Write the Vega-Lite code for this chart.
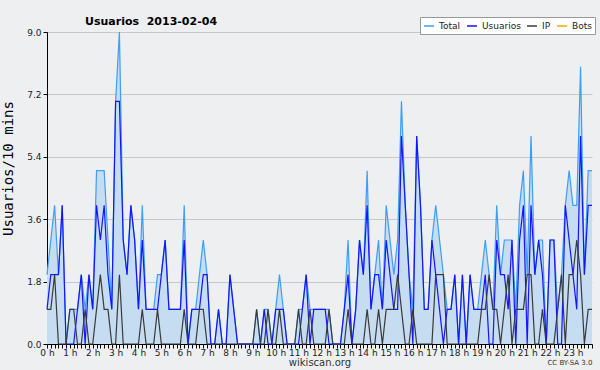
{
  "$schema": "https://vega.github.io/schema/vega-lite/v6.json",
  "width": 545,
  "height": 312,
  "autosize": {"type": "none"},
  "padding": {"left": 47, "top": 32, "right": 8, "bottom": 26},
  "background": "#eeeff1",
  "config": {"view": {"stroke": null, "fill": "#eeeff1"}, "font": "DejaVu Sans"},
  "title": {"text": "Usuarios\u00a0 2013-02-04", "anchor": "start", "frame": "group", "dx": 38, "dy": 19, "fontSize": 11, "fontWeight": "bold", "font": "DejaVu Sans", "color": "#000000", "offset": 9},
  "data": {"values": [
    {"m":0,"Total":2,"Usuarios":1,"IP":1},{"m":10,"Total":3,"Usuarios":2,"IP":1},{"m":20,"Total":4,"Usuarios":2,"IP":2},{"m":30,"Total":2,"Usuarios":2,"IP":0},{"m":40,"Total":4,"Usuarios":4,"IP":0},{"m":50,"Total":0,"Usuarios":0,"IP":0},
    {"m":60,"Total":1,"Usuarios":0,"IP":1},{"m":70,"Total":1,"Usuarios":0,"IP":1},{"m":80,"Total":1,"Usuarios":1,"IP":0},{"m":90,"Total":2,"Usuarios":2,"IP":0},{"m":100,"Total":1,"Usuarios":0,"IP":1},{"m":110,"Total":2,"Usuarios":2,"IP":0},
    {"m":120,"Total":1,"Usuarios":1,"IP":0},{"m":130,"Total":5,"Usuarios":4,"IP":1},{"m":140,"Total":5,"Usuarios":3,"IP":2},{"m":150,"Total":5,"Usuarios":4,"IP":1},{"m":160,"Total":3,"Usuarios":2,"IP":1},{"m":170,"Total":1,"Usuarios":1,"IP":0},
    {"m":180,"Total":7,"Usuarios":7,"IP":0},{"m":190,"Total":9,"Usuarios":7,"IP":2},{"m":200,"Total":3,"Usuarios":3,"IP":0},{"m":210,"Total":2,"Usuarios":2,"IP":0},{"m":220,"Total":4,"Usuarios":4,"IP":0},{"m":230,"Total":3,"Usuarios":3,"IP":0},
    {"m":240,"Total":1,"Usuarios":1,"IP":0},{"m":250,"Total":4,"Usuarios":3,"IP":1},{"m":260,"Total":1,"Usuarios":1,"IP":0},{"m":270,"Total":1,"Usuarios":1,"IP":0},{"m":280,"Total":1,"Usuarios":1,"IP":0},{"m":290,"Total":2,"Usuarios":1,"IP":1},
    {"m":300,"Total":2,"Usuarios":2,"IP":0},{"m":310,"Total":3,"Usuarios":3,"IP":0},{"m":320,"Total":1,"Usuarios":1,"IP":0},{"m":330,"Total":1,"Usuarios":1,"IP":0},{"m":340,"Total":1,"Usuarios":1,"IP":0},{"m":350,"Total":1,"Usuarios":1,"IP":0},
    {"m":360,"Total":4,"Usuarios":3,"IP":1},{"m":370,"Total":0,"Usuarios":0,"IP":0},{"m":380,"Total":1,"Usuarios":1,"IP":0},{"m":390,"Total":1,"Usuarios":1,"IP":0},{"m":400,"Total":2,"Usuarios":1,"IP":1},{"m":410,"Total":3,"Usuarios":2,"IP":1},
    {"m":420,"Total":2,"Usuarios":2,"IP":0},{"m":430,"Total":0,"Usuarios":0,"IP":0},{"m":440,"Total":0,"Usuarios":0,"IP":0},{"m":450,"Total":1,"Usuarios":1,"IP":0},{"m":460,"Total":0,"Usuarios":0,"IP":0},{"m":470,"Total":0,"Usuarios":0,"IP":0},
    {"m":480,"Total":2,"Usuarios":2,"IP":0},{"m":490,"Total":1,"Usuarios":1,"IP":0},{"m":500,"Total":0,"Usuarios":0,"IP":0},{"m":510,"Total":0,"Usuarios":0,"IP":0},{"m":520,"Total":0,"Usuarios":0,"IP":0},{"m":530,"Total":0,"Usuarios":0,"IP":0},
    {"m":540,"Total":0,"Usuarios":0,"IP":0},{"m":550,"Total":1,"Usuarios":0,"IP":1},{"m":560,"Total":0,"Usuarios":0,"IP":0},{"m":570,"Total":1,"Usuarios":1,"IP":0},{"m":580,"Total":1,"Usuarios":0,"IP":1},{"m":590,"Total":0,"Usuarios":0,"IP":0},
    {"m":600,"Total":1,"Usuarios":1,"IP":0},{"m":610,"Total":2,"Usuarios":1,"IP":1},{"m":620,"Total":1,"Usuarios":1,"IP":0},{"m":630,"Total":0,"Usuarios":0,"IP":0},{"m":640,"Total":0,"Usuarios":0,"IP":0},{"m":650,"Total":0,"Usuarios":0,"IP":0},
    {"m":660,"Total":1,"Usuarios":0,"IP":1},{"m":670,"Total":1,"Usuarios":1,"IP":0},{"m":680,"Total":2,"Usuarios":2,"IP":0},{"m":690,"Total":1,"Usuarios":0,"IP":1},{"m":700,"Total":1,"Usuarios":1,"IP":0},{"m":710,"Total":1,"Usuarios":1,"IP":0},
    {"m":720,"Total":1,"Usuarios":1,"IP":0},{"m":730,"Total":1,"Usuarios":1,"IP":0},{"m":740,"Total":1,"Usuarios":0,"IP":1},{"m":750,"Total":0,"Usuarios":0,"IP":0},{"m":760,"Total":0,"Usuarios":0,"IP":0},{"m":770,"Total":0,"Usuarios":0,"IP":0},
    {"m":780,"Total":1,"Usuarios":1,"IP":0},{"m":790,"Total":3,"Usuarios":2,"IP":1},{"m":800,"Total":0,"Usuarios":0,"IP":0},{"m":810,"Total":1,"Usuarios":1,"IP":0},{"m":820,"Total":3,"Usuarios":3,"IP":0},{"m":830,"Total":2,"Usuarios":2,"IP":0},
    {"m":840,"Total":5,"Usuarios":4,"IP":1},{"m":850,"Total":1,"Usuarios":1,"IP":0},{"m":860,"Total":2,"Usuarios":2,"IP":0},{"m":870,"Total":3,"Usuarios":2,"IP":1},{"m":880,"Total":1,"Usuarios":1,"IP":0},{"m":890,"Total":4,"Usuarios":3,"IP":1},
    {"m":900,"Total":3,"Usuarios":2,"IP":1},{"m":910,"Total":2,"Usuarios":1,"IP":1},{"m":920,"Total":3,"Usuarios":1,"IP":2},{"m":930,"Total":7,"Usuarios":6,"IP":1},{"m":940,"Total":4,"Usuarios":4,"IP":0},{"m":950,"Total":2,"Usuarios":2,"IP":0},
    {"m":960,"Total":1,"Usuarios":0,"IP":1},{"m":970,"Total":6,"Usuarios":6,"IP":0},{"m":980,"Total":4,"Usuarios":4,"IP":0},{"m":990,"Total":1,"Usuarios":1,"IP":0},{"m":1000,"Total":1,"Usuarios":1,"IP":0},{"m":1010,"Total":3,"Usuarios":3,"IP":0},
    {"m":1020,"Total":4,"Usuarios":2,"IP":2},{"m":1030,"Total":3,"Usuarios":1,"IP":2},{"m":1040,"Total":2,"Usuarios":0,"IP":2},{"m":1050,"Total":1,"Usuarios":1,"IP":0},{"m":1060,"Total":1,"Usuarios":1,"IP":0},{"m":1070,"Total":2,"Usuarios":2,"IP":0},
    {"m":1080,"Total":0,"Usuarios":0,"IP":0},{"m":1090,"Total":2,"Usuarios":2,"IP":0},{"m":1100,"Total":0,"Usuarios":0,"IP":0},{"m":1110,"Total":2,"Usuarios":2,"IP":0},{"m":1120,"Total":1,"Usuarios":1,"IP":0},{"m":1130,"Total":1,"Usuarios":1,"IP":0},
    {"m":1140,"Total":2,"Usuarios":1,"IP":1},{"m":1150,"Total":3,"Usuarios":2,"IP":1},{"m":1160,"Total":2,"Usuarios":0,"IP":2},{"m":1170,"Total":1,"Usuarios":0,"IP":1},{"m":1180,"Total":4,"Usuarios":3,"IP":1},{"m":1190,"Total":2,"Usuarios":2,"IP":0},
    {"m":1200,"Total":3,"Usuarios":2,"IP":1},{"m":1210,"Total":3,"Usuarios":1,"IP":2},{"m":1220,"Total":3,"Usuarios":3,"IP":0},{"m":1230,"Total":1,"Usuarios":0,"IP":1},{"m":1240,"Total":4,"Usuarios":3,"IP":1},{"m":1250,"Total":5,"Usuarios":4,"IP":1},
    {"m":1260,"Total":2,"Usuarios":0,"IP":2},{"m":1270,"Total":6,"Usuarios":4,"IP":2},{"m":1280,"Total":2,"Usuarios":2,"IP":0},{"m":1290,"Total":3,"Usuarios":3,"IP":0},{"m":1300,"Total":3,"Usuarios":2,"IP":1},{"m":1310,"Total":0,"Usuarios":0,"IP":0},
    {"m":1320,"Total":3,"Usuarios":3,"IP":0},{"m":1330,"Total":3,"Usuarios":3,"IP":0},{"m":1340,"Total":1,"Usuarios":0,"IP":1},{"m":1350,"Total":2,"Usuarios":0,"IP":2},{"m":1360,"Total":4,"Usuarios":4,"IP":0},{"m":1370,"Total":5,"Usuarios":3,"IP":2},
    {"m":1380,"Total":4,"Usuarios":2,"IP":2},{"m":1390,"Total":4,"Usuarios":1,"IP":3},{"m":1400,"Total":8,"Usuarios":6,"IP":2},{"m":1410,"Total":2,"Usuarios":2,"IP":0},{"m":1420,"Total":5,"Usuarios":4,"IP":1},{"m":1430,"Total":5,"Usuarios":4,"IP":1}
  ]},
  "transform": [{"fold": ["Total", "Usuarios", "IP"], "as": ["serie", "v"]}],
  "resolve": {"axis": {"x": "independent"}},
  "layer": [
    {
      "transform": [{"filter": "datum.serie == 'Total'"}],
      "mark": {"type": "area", "color": "#c6dcf0", "opacity": 1},
      "encoding": {
        "x": {"field": "m", "type": "quantitative", "scale": {"domain": [0, 1430], "nice": false, "zero": false},
          "axis": {
            "orient": "bottom",
            "values": [0,10,20,30,40,50,60,70,80,90,100,110,120,130,140,150,160,170,180,190,200,210,220,230,240,250,260,270,280,290,300,310,320,330,340,350,360,370,380,390,400,410,420,430,440,450,460,470,480,490,500,510,520,530,540,550,560,570,580,590,600,610,620,630,640,650,660,670,680,690,700,710,720,730,740,750,760,770,780,790,800,810,820,830,840,850,860,870,880,890,900,910,920,930,940,950,960,970,980,990,1000,1010,1020,1030,1040,1050,1060,1070,1080,1090,1100,1110,1120,1130,1140,1150,1160,1170,1180,1190,1200,1210,1220,1230,1240,1250,1260,1270,1280,1290,1300,1310,1320,1330,1340,1350,1360,1370,1380,1390,1400,1410,1420,1430],
            "labelExpr": "datum.value % 60 == 0 ? (datum.value / 60) + ' h' : ''",
            "labelOverlap": false, "labelFlush": false, "labelFontSize": 9, "labelColor": "#222222", "labelPadding": 0,
            "tickSize": 4, "tickColor": "#000000", "domainColor": "#000000", "grid": false,
            "title": "wikiscan.org", "titleFontSize": 10, "titleFontWeight": "normal", "titleColor": "#333333", "titlePadding": 0
          }
        },
        "y": {"field": "v", "type": "quantitative", "scale": {"domain": [0, 9], "nice": false},
          "axis": {
            "values": [0,0.45,0.9,1.35,1.8,2.25,2.7,3.15,3.6,4.05,4.5,4.95,5.4,5.85,6.3,6.75,7.2,7.65,8.1,8.55,9],
            "labelExpr": "abs(datum.value/1.8 - round(datum.value/1.8)) < 0.01 ? format(datum.value, '.1f') : ''",
            "labelOverlap": false, "labelFlush": false, "labelFontSize": 9, "labelColor": "#222222", "labelPadding": 2,
            "tickSize": 4, "tickColor": "#000000", "domainColor": "#000000",
            "grid": true, "gridColor": "#c8c8c8",
            "gridOpacity": {"condition": {"test": "abs(datum.value/1.8 - round(datum.value/1.8)) < 0.01", "value": 1}, "value": 0},
            "title": "Usuarios/10 mins", "titleFont": "DejaVu Sans Mono", "titleFontSize": 14, "titleFontWeight": "normal", "titleColor": "#000000", "titleY": 136, "titleX": -32
          }
        }
      }
    },
    {
      "mark": {"type": "line", "strokeWidth": 1.2},
      "encoding": {
        "x": {"field": "m", "type": "quantitative", "scale": {"domain": [0, 1430], "nice": false, "zero": false},
          "axis": {"labels": false, "ticks": false, "domain": false, "grid": false, "orient": "top",
            "title": "CC BY-SA 3.0", "titleFontSize": 7, "titleFontWeight": "normal", "titleColor": "#333333",
            "titleX": 545, "titleY": 330, "titleAlign": "right", "titleBaseline": "middle", "titleAngle": 0}
        },
        "y": {"field": "v", "type": "quantitative"},
        "color": {"field": "serie", "type": "nominal",
          "scale": {"domain": ["Total", "Usuarios", "IP", "Bots"], "range": ["#3d9ef5", "#1414ff", "#3a3a3a", "#ffa500"]},
          "legend": {"orient": "none", "legendX": 373, "legendY": -15, "direction": "horizontal", "title": null, "gridAlign": "none",
            "fillColor": "#ffffff", "strokeColor": "#999999", "padding": 3, "symbolType": "stroke", "symbolSize": 100,
            "symbolStrokeWidth": 1.5, "labelFontSize": 9, "labelColor": "#222222", "columnPadding": 3, "labelOffset": 4}
        }
      }
    }
  ]
}
